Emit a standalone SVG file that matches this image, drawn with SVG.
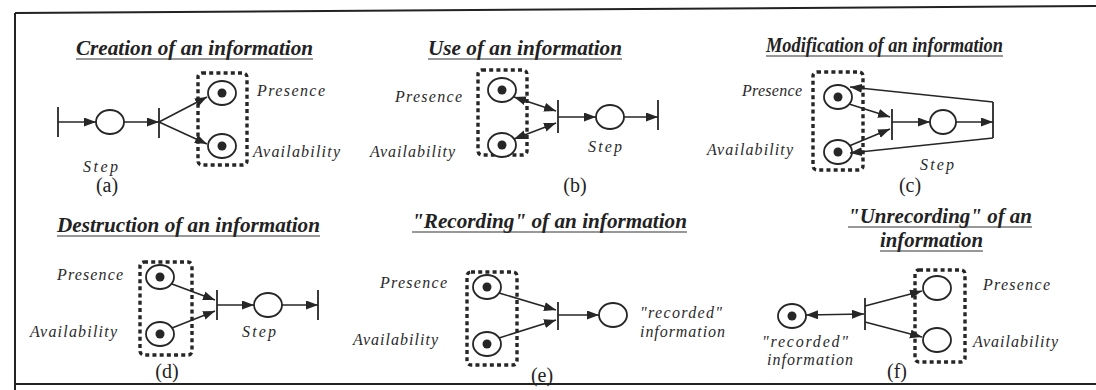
<svg xmlns="http://www.w3.org/2000/svg" width="1096" height="390" viewBox="0 0 1096 390">
  <style>
    .ln { stroke: #262626; stroke-width: 1.6; fill: none; }
    .bar { stroke: #262626; stroke-width: 1.8; fill: none; }
    .arc { stroke: #262626; stroke-width: 1.6; fill: none; marker-end: url(#ah); }
    .arc2 { stroke: #262626; stroke-width: 1.6; fill: none; marker-end: url(#ah); marker-start: url(#ahs); }
    .place { stroke: #262626; stroke-width: 1.8; fill: #fff; }
    .token { fill: #262626; }
    .group { stroke: #262626; stroke-width: 3.4; stroke-dasharray: 4 3.2; fill: none; }
    .title { font-family: "Liberation Serif", "Times New Roman", serif; font-weight: bold; font-style: italic; font-size: 20px; fill: #222; }
    .ul { stroke: #333; stroke-width: 1.2; }
    .lbl { font-family: "Liberation Serif", "Times New Roman", serif; font-style: italic; font-size: 16px; fill: #2a2a2a; }
    .cap { font-family: "Liberation Serif", "Times New Roman", serif; font-size: 20px; fill: #222; text-anchor: middle; }
    .frame { stroke: #222; stroke-width: 2; fill: none; }
  </style>
  <defs>
    <marker id="ah" markerUnits="userSpaceOnUse" markerWidth="14" markerHeight="10" refX="12" refY="4.5" orient="auto">
      <path d="M0,0 L12,4.5 L0,9 Z" fill="#262626"/>
    </marker>
    <marker id="ahs" markerUnits="userSpaceOnUse" markerWidth="14" markerHeight="10" refX="12" refY="4.5" orient="auto-start-reverse">
      <path d="M0,0 L12,4.5 L0,9 Z" fill="#262626"/>
    </marker>
  </defs>

  <rect width="1096" height="390" fill="#fff"/>

  <!-- outer frame -->
  <g id="frame">
    <line class="frame" x1="15" y1="13" x2="1096" y2="6"/>
    <line class="frame" x1="15" y1="13" x2="15" y2="390"/>
    <line class="frame" x1="15" y1="384" x2="1096" y2="384"/>
  </g>

  <!-- (a) creation -->
  <g id="panel-a">
    <text class="title" x="76" y="55" textLength="237" lengthAdjust="spacingAndGlyphs">Creation of an information</text>
    <line class="ul" x1="76" y1="59" x2="313" y2="59"/>
    <g id="a-t1"><line class="bar" x1="58" y1="107" x2="58" y2="137"/></g>
    <g id="a-step"><ellipse class="place" cx="110" cy="122" rx="14" ry="12"/></g>
    <g id="a-t2"><line class="bar" x1="159" y1="108" x2="159" y2="138"/></g>
    <g id="a-group"><rect class="group" x="198" y="73" width="49" height="92" rx="4"/></g>
    <g id="a-presence"><ellipse class="place" cx="222" cy="93" rx="14" ry="12"/><circle class="token" cx="222" cy="93" r="4.5"/></g>
    <g id="a-availability"><ellipse class="place" cx="222" cy="146" rx="14" ry="12"/><circle class="token" cx="222" cy="146" r="4.5"/></g>
    <text class="lbl" x="257" y="96" textLength="68" lengthAdjust="spacing">Presence</text>
    <text class="lbl" x="253" y="157" textLength="87" lengthAdjust="spacing">Availability</text>
    <text class="lbl" x="83" y="172" textLength="35" lengthAdjust="spacing">Step</text>
    <text class="cap" x="107" y="192">(a)</text>
  </g>

  <!-- (b) use -->
  <g id="panel-b">
    <text class="title" x="428" y="55" textLength="194" lengthAdjust="spacingAndGlyphs">Use of an information</text>
    <line class="ul" x1="428" y1="59" x2="622" y2="59"/>
    <g id="b-group"><rect class="group" x="478" y="70" width="49" height="85" rx="4"/></g>
    <g id="b-presence"><ellipse class="place" cx="502" cy="90" rx="14" ry="12"/><circle class="token" cx="502" cy="90" r="4.5"/></g>
    <g id="b-availability"><ellipse class="place" cx="502" cy="145" rx="14" ry="12"/><circle class="token" cx="502" cy="145" r="4.5"/></g>
    <g id="b-t1"><line class="bar" x1="558" y1="100" x2="558" y2="133"/></g>
    <g id="b-step"><ellipse class="place" cx="610" cy="117" rx="14" ry="12"/></g>
    <g id="b-t2"><line class="bar" x1="658" y1="100" x2="658" y2="130"/></g>
    <text class="lbl" x="395" y="102" textLength="67" lengthAdjust="spacing">Presence</text>
    <text class="lbl" x="370" y="157" textLength="85" lengthAdjust="spacing">Availability</text>
    <text class="lbl" x="588" y="152" textLength="34" lengthAdjust="spacing">Step</text>
    <text class="cap" x="575" y="192">(b)</text>
  </g>

  <!-- (c) modification -->
  <g id="panel-c">
    <text class="title" x="766" y="52" textLength="237" lengthAdjust="spacingAndGlyphs">Modification of an information</text>
    <line class="ul" x1="766" y1="56" x2="1003" y2="56"/>
    <g id="c-group"><rect class="group" x="813" y="72" width="50" height="98" rx="4"/></g>
    <g id="c-presence"><ellipse class="place" cx="838" cy="97" rx="14" ry="12"/><circle class="token" cx="838" cy="97" r="4.5"/></g>
    <g id="c-availability"><ellipse class="place" cx="838" cy="152" rx="14" ry="12"/><circle class="token" cx="838" cy="152" r="4.5"/></g>
    <g id="c-t1"><line class="bar" x1="892" y1="109" x2="892" y2="140"/></g>
    <g id="c-step"><ellipse class="place" cx="943" cy="122" rx="13" ry="12"/></g>
    <g id="c-t2"><line class="bar" x1="993" y1="102" x2="993" y2="138"/></g>
    <text class="lbl" x="742" y="96" textLength="60" lengthAdjust="spacing">Presence</text>
    <text class="lbl" x="707" y="155" textLength="86" lengthAdjust="spacing">Availability</text>
    <text class="lbl" x="920" y="170" textLength="34" lengthAdjust="spacing">Step</text>
    <text class="cap" x="910" y="192">(c)</text>
  </g>

  <!-- (d) destruction -->
  <g id="panel-d">
    <text class="title" x="57" y="232" textLength="263" lengthAdjust="spacingAndGlyphs">Destruction of an information</text>
    <line class="ul" x1="57" y1="236" x2="320" y2="236"/>
    <g id="d-group"><rect class="group" x="140" y="262" width="52" height="93" rx="4"/></g>
    <g id="d-presence"><ellipse class="place" cx="160" cy="277" rx="14" ry="12"/><circle class="token" cx="160" cy="277" r="4.5"/></g>
    <g id="d-availability"><ellipse class="place" cx="160" cy="334" rx="14" ry="12"/><circle class="token" cx="160" cy="334" r="4.5"/></g>
    <g id="d-t1"><line class="bar" x1="217" y1="290" x2="217" y2="320"/></g>
    <g id="d-step"><ellipse class="place" cx="268" cy="305" rx="14" ry="12"/></g>
    <g id="d-t2"><line class="bar" x1="318" y1="290" x2="318" y2="320"/></g>
    <text class="lbl" x="57" y="280" textLength="66" lengthAdjust="spacing">Presence</text>
    <text class="lbl" x="30" y="337" textLength="87" lengthAdjust="spacing">Availability</text>
    <text class="lbl" x="242" y="337" textLength="34" lengthAdjust="spacing">Step</text>
    <text class="cap" x="167" y="378">(d)</text>
  </g>

  <!-- (e) recording -->
  <g id="panel-e">
    <text class="title" x="412" y="228" textLength="275" lengthAdjust="spacingAndGlyphs">"Recording" of an information</text>
    <line class="ul" x1="412" y1="232" x2="687" y2="232"/>
    <g id="e-group"><rect class="group" x="467" y="272" width="50" height="93" rx="4"/></g>
    <g id="e-presence"><ellipse class="place" cx="487" cy="287" rx="14" ry="12"/><circle class="token" cx="487" cy="287" r="4.5"/></g>
    <g id="e-availability"><ellipse class="place" cx="487" cy="344" rx="14" ry="12"/><circle class="token" cx="487" cy="344" r="4.5"/></g>
    <g id="e-t1"><line class="bar" x1="558" y1="302" x2="558" y2="330"/></g>
    <g id="e-recorded"><ellipse class="place" cx="613" cy="315" rx="14" ry="12"/></g>
    <text class="lbl" x="380" y="288" textLength="67" lengthAdjust="spacing">Presence</text>
    <text class="lbl" x="353" y="345" textLength="85" lengthAdjust="spacing">Availability</text>
    <text class="lbl" x="640" y="318" textLength="82" lengthAdjust="spacing">"recorded"</text>
    <text class="lbl" x="640" y="337" textLength="85" lengthAdjust="spacing">information</text>
    <text class="cap" x="542" y="382">(e)</text>
  </g>

  <!-- (f) unrecording -->
  <g id="panel-f">
    <text class="title" x="848" y="223" textLength="184" lengthAdjust="spacingAndGlyphs">"Unrecording" of an</text>
    <line class="ul" x1="848" y1="227" x2="1032" y2="227"/>
    <text class="title" x="880" y="247" textLength="103" lengthAdjust="spacingAndGlyphs">information</text>
    <line class="ul" x1="880" y1="251" x2="983" y2="251"/>
    <g id="f-recorded"><ellipse class="place" cx="792" cy="316" rx="14" ry="12"/><circle class="token" cx="792" cy="316" r="4.5"/></g>
    <g id="f-t1"><line class="bar" x1="865" y1="298" x2="865" y2="330"/></g>
    <g id="f-group"><rect class="group" x="915" y="270" width="50" height="92" rx="4"/></g>
    <g id="f-presence"><ellipse class="place" cx="937" cy="288" rx="14" ry="12"/></g>
    <g id="f-availability"><ellipse class="place" cx="937" cy="340" rx="14" ry="12"/></g>
    <text class="lbl" x="983" y="290" textLength="67" lengthAdjust="spacing">Presence</text>
    <text class="lbl" x="973" y="347" textLength="85" lengthAdjust="spacing">Availability</text>
    <text class="lbl" x="762" y="347" textLength="86" lengthAdjust="spacing">"recorded"</text>
    <text class="lbl" x="767" y="365" textLength="86" lengthAdjust="spacing">information</text>
    <text class="cap" x="897" y="378">(f)</text>
  </g>

  <!-- arcs between places and transitions -->
  <g id="connectors">
    <!-- (a) -->
    <line class="arc" x1="58" y1="122" x2="96" y2="122"/>
    <line class="arc" x1="124" y1="122" x2="159" y2="122"/>
    <line class="arc" x1="159" y1="122" x2="207" y2="97"/>
    <line class="arc" x1="159" y1="122" x2="207" y2="144"/>
    <!-- (b) -->
    <line class="arc2" x1="514" y1="97" x2="556" y2="111"/>
    <line class="arc2" x1="514" y1="139" x2="556" y2="123"/>
    <line class="arc" x1="558" y1="117" x2="596" y2="117"/>
    <line class="arc" x1="624" y1="117" x2="658" y2="117"/>
    <!-- (c) -->
    <line class="arc" x1="849" y1="104" x2="890" y2="117"/>
    <line class="arc" x1="849" y1="146" x2="890" y2="129"/>
    <line class="arc" x1="892" y1="122" x2="930" y2="122"/>
    <line class="arc" x1="956" y1="122" x2="993" y2="122"/>
    <line class="arc" x1="993" y1="102" x2="850" y2="87"/>
    <line class="arc" x1="993" y1="138" x2="850" y2="153"/>
    <!-- (d) -->
    <line class="arc" x1="172" y1="284" x2="215" y2="300"/>
    <line class="arc" x1="172" y1="328" x2="215" y2="311"/>
    <line class="arc" x1="217" y1="305" x2="254" y2="305"/>
    <line class="arc" x1="282" y1="305" x2="318" y2="305"/>
    <!-- (e) -->
    <line class="arc" x1="499" y1="293" x2="556" y2="310"/>
    <line class="arc" x1="499" y1="338" x2="556" y2="320"/>
    <line class="arc" x1="558" y1="315" x2="599" y2="315"/>
    <!-- (f) -->
    <line class="arc2" x1="806" y1="315" x2="864" y2="314"/>
    <line class="arc" x1="865" y1="306" x2="922" y2="291"/>
    <line class="arc" x1="865" y1="322" x2="922" y2="337"/>
  </g>
</svg>
